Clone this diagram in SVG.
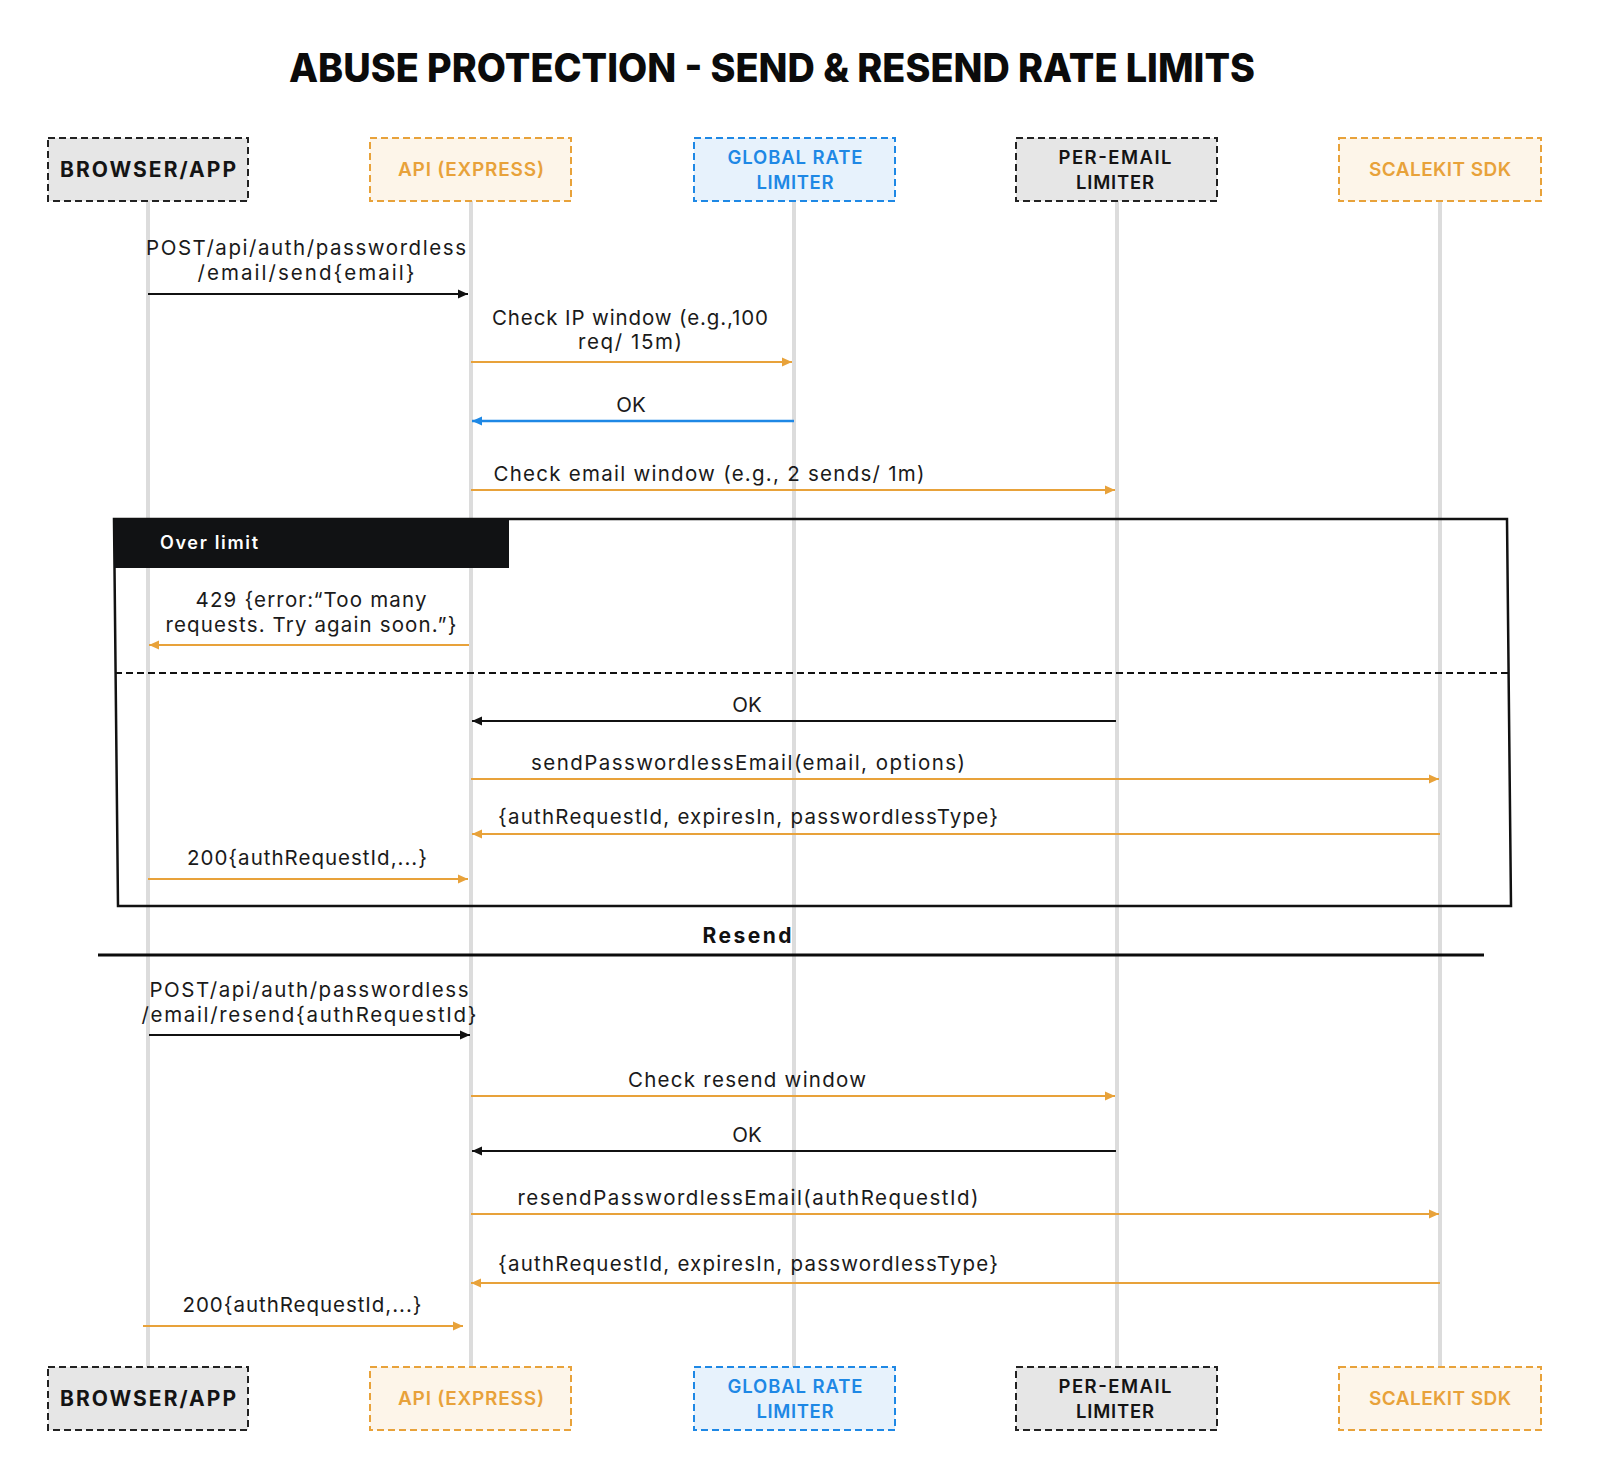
<svg xmlns="http://www.w3.org/2000/svg" width="1600" height="1479" viewBox="0 0 1600 1479">
<defs>
<style>
.bg{fill:#ffffff}
.title{font-family:Inter,"Liberation Sans",sans-serif;font-weight:800;font-size:40px;fill:#0b0b0b}
.lifeline{stroke:#dcdcdc;stroke-width:4}
.box{stroke-width:2;stroke-dasharray:7 4}
.b-gray{fill:#e6e6e6;stroke:#222}
.b-orange{fill:#fdf5e9;stroke:#e8a23a}
.b-blue{fill:#e7f2fc;stroke:#1e88e5}
.lbl{font-family:Inter,"Liberation Sans",sans-serif;font-weight:600;text-anchor:middle}
.lbl-black{fill:#141414;font-size:21px;font-weight:700}
.lbl-gray{fill:#141414;font-size:18.5px}
.lbl-orange{fill:#e8a23a;font-size:19px}
.lbl-blue{fill:#1e88e5;font-size:18.5px}
.msg{font-family:Inter,"Liberation Sans",sans-serif;font-size:20.5px;fill:#1a1a1a;text-anchor:middle}
.a-black{stroke:#111;stroke-width:2.2;fill:none}
.a-orange{stroke:#e8a23a;stroke-width:2;fill:none}
.a-blue{stroke:#1e88e5;stroke-width:2.4;fill:none}
.frame{fill:none;stroke:#111;stroke-width:2.5}
.sep{stroke:#111;stroke-width:1.8;stroke-dasharray:7 4}
.hdr{fill:#111214}
.hdrtxt{font-family:Inter,"Liberation Sans",sans-serif;font-weight:600;font-size:18px;fill:#ffffff}
.divline{stroke:#0b0b0b;stroke-width:3}
.divtxt{font-family:Inter,"Liberation Sans",sans-serif;font-weight:700;font-size:21px;fill:#111;text-anchor:middle}
</style>
<marker id="mh-black" viewBox="0 0 10 10" refX="10" refY="5" markerWidth="10" markerHeight="10" markerUnits="userSpaceOnUse" orient="auto"><path d="M0,0.5 L10,5 L0,9.5 z" fill="#111"/></marker>
<marker id="mh-orange" viewBox="0 0 10 10" refX="10" refY="5" markerWidth="10" markerHeight="10" markerUnits="userSpaceOnUse" orient="auto"><path d="M0,0.5 L10,5 L0,9.5 z" fill="#e8a23a"/></marker>
<marker id="mh-blue" viewBox="0 0 10 10" refX="10" refY="5" markerWidth="10" markerHeight="10" markerUnits="userSpaceOnUse" orient="auto"><path d="M0,0.5 L10,5 L0,9.5 z" fill="#1e88e5"/></marker>
</defs>
<rect class="bg" x="0" y="0" width="1600" height="1479"/>
<text class="title" x="772" y="82" text-anchor="middle" textLength="966" lengthAdjust="spacingAndGlyphs">ABUSE PROTECTION - SEND &amp; RESEND RATE LIMITS</text>

<g id="lifelines">
<line class="lifeline" x1="148" y1="201" x2="148" y2="1367"/>
<line class="lifeline" x1="471" y1="201" x2="471" y2="1367"/>
<line class="lifeline" x1="794" y1="201" x2="794" y2="1367"/>
<line class="lifeline" x1="1117" y1="201" x2="1117" y2="1367"/>
<line class="lifeline" x1="1440" y1="201" x2="1440" y2="1367"/>
</g>

<g id="fragment-over-limit">
<polygon class="frame" points="114,519 1507,519 1511,906 118,906"/>
<rect class="hdr" x="114" y="519" width="395" height="49"/>
<text class="hdrtxt" x="160" y="549" textLength="98" lengthAdjust="spacing">Over limit</text>
<line class="sep" x1="115" y1="673" x2="1508" y2="673"/>
</g>

<g id="divider-resend">
<line class="divline" x1="98" y1="955" x2="1484" y2="955"/>
<text class="divtxt" x="747" y="943" textLength="89" lengthAdjust="spacing">Resend</text>
</g>

<g id="node-browser-top">
<rect class="box b-gray" x="48" y="138" width="200" height="63"/>
<text class="lbl lbl-black" x="148" y="177" textLength="176" lengthAdjust="spacing">BROWSER/APP</text>
</g>
<g id="node-api-top">
<rect class="box b-orange" x="370" y="138" width="201" height="63"/>
<text class="lbl lbl-orange" x="471" y="176" textLength="146" lengthAdjust="spacing">API (EXPRESS)</text>
</g>
<g id="node-global-top">
<rect class="box b-blue" x="694" y="138" width="201" height="63"/>
<text class="lbl lbl-blue" x="795" y="164" textLength="135" lengthAdjust="spacing">GLOBAL RATE</text>
<text class="lbl lbl-blue" x="795" y="189" textLength="77" lengthAdjust="spacing">LIMITER</text>
</g>
<g id="node-peremail-top">
<rect class="box b-gray" x="1016" y="138" width="201" height="63"/>
<text class="lbl lbl-gray" x="1115" y="164" textLength="113" lengthAdjust="spacing">PER-EMAIL</text>
<text class="lbl lbl-gray" x="1115" y="189" textLength="78" lengthAdjust="spacing">LIMITER</text>
</g>
<g id="node-scalekit-top">
<rect class="box b-orange" x="1339" y="138" width="202" height="63"/>
<text class="lbl lbl-orange" x="1440" y="176" textLength="142" lengthAdjust="spacing">SCALEKIT SDK</text>
</g>

<g id="node-browser-bottom">
<rect class="box b-gray" x="48" y="1367" width="200" height="63"/>
<text class="lbl lbl-black" x="148" y="1406" textLength="176" lengthAdjust="spacing">BROWSER/APP</text>
</g>
<g id="node-api-bottom">
<rect class="box b-orange" x="370" y="1367" width="201" height="63"/>
<text class="lbl lbl-orange" x="471" y="1405" textLength="146" lengthAdjust="spacing">API (EXPRESS)</text>
</g>
<g id="node-global-bottom">
<rect class="box b-blue" x="694" y="1367" width="201" height="63"/>
<text class="lbl lbl-blue" x="795" y="1393" textLength="135" lengthAdjust="spacing">GLOBAL RATE</text>
<text class="lbl lbl-blue" x="795" y="1418" textLength="77" lengthAdjust="spacing">LIMITER</text>
</g>
<g id="node-peremail-bottom">
<rect class="box b-gray" x="1016" y="1367" width="201" height="63"/>
<text class="lbl lbl-gray" x="1115" y="1393" textLength="113" lengthAdjust="spacing">PER-EMAIL</text>
<text class="lbl lbl-gray" x="1115" y="1418" textLength="78" lengthAdjust="spacing">LIMITER</text>
</g>
<g id="node-scalekit-bottom">
<rect class="box b-orange" x="1339" y="1367" width="202" height="63"/>
<text class="lbl lbl-orange" x="1440" y="1405" textLength="142" lengthAdjust="spacing">SCALEKIT SDK</text>
</g>

<g id="connectors">
<line class="a-black" x1="148" y1="294" x2="468" y2="294" marker-end="url(#mh-black)"/>
<line class="a-orange" x1="471" y1="362" x2="792" y2="362" marker-end="url(#mh-orange)"/>
<line class="a-blue" x1="794" y1="421" x2="472" y2="421" marker-end="url(#mh-blue)"/>
<line class="a-orange" x1="471" y1="490" x2="1115" y2="490" marker-end="url(#mh-orange)"/>
<line class="a-orange" x1="469" y1="645" x2="149" y2="645" marker-end="url(#mh-orange)"/>
<line class="a-black" x1="1116" y1="721" x2="472" y2="721" marker-end="url(#mh-black)"/>
<line class="a-orange" x1="471" y1="779" x2="1439" y2="779" marker-end="url(#mh-orange)"/>
<line class="a-orange" x1="1440" y1="834" x2="472" y2="834" marker-end="url(#mh-orange)"/>
<line class="a-orange" x1="148" y1="879" x2="468" y2="879" marker-end="url(#mh-orange)"/>
<line class="a-black" x1="149" y1="1035" x2="470" y2="1035" marker-end="url(#mh-black)"/>
<line class="a-orange" x1="471" y1="1096" x2="1115" y2="1096" marker-end="url(#mh-orange)"/>
<line class="a-black" x1="1116" y1="1151" x2="472" y2="1151" marker-end="url(#mh-black)"/>
<line class="a-orange" x1="471" y1="1214" x2="1439" y2="1214" marker-end="url(#mh-orange)"/>
<line class="a-orange" x1="1440" y1="1283" x2="471" y2="1283" marker-end="url(#mh-orange)"/>
<line class="a-orange" x1="143" y1="1326" x2="463" y2="1326" marker-end="url(#mh-orange)"/>
</g>

<g id="labels">
<text class="msg" x="306" y="255" textLength="320" lengthAdjust="spacing">POST/api/auth/passwordless</text>
<text class="msg" x="306" y="280" textLength="217" lengthAdjust="spacing">/email/send{email}</text>
<text class="msg" x="630" y="325" textLength="276" lengthAdjust="spacing">Check IP window (e.g.,100</text>
<text class="msg" x="630" y="349" textLength="104" lengthAdjust="spacing">req/ 15m)</text>
<text class="msg" x="631" y="412">OK</text>
<text class="msg" x="709" y="481" textLength="431" lengthAdjust="spacing">Check email window (e.g., 2 sends/ 1m)</text>
<text class="msg" x="311" y="607" textLength="231" lengthAdjust="spacing">429 {error:“Too many</text>
<text class="msg" x="311" y="632" textLength="291" lengthAdjust="spacing">requests. Try again soon.”}</text>
<text class="msg" x="747" y="712">OK</text>
<text class="msg" x="748" y="770" textLength="434" lengthAdjust="spacing">sendPasswordlessEmail(email, options)</text>
<text class="msg" x="748" y="824" textLength="500" lengthAdjust="spacing">{authRequestId, expiresIn, passwordlessType}</text>
<text class="msg" x="307" y="865" textLength="240" lengthAdjust="spacing">200{authRequestId,...}</text>
<text class="msg" x="309" y="997" textLength="319" lengthAdjust="spacing">POST/api/auth/passwordless</text>
<text class="msg" x="309" y="1022" textLength="335" lengthAdjust="spacing">/email/resend{authRequestId}</text>
<text class="msg" x="747" y="1087" textLength="238" lengthAdjust="spacing">Check resend window</text>
<text class="msg" x="747" y="1142">OK</text>
<text class="msg" x="748" y="1205" textLength="461" lengthAdjust="spacing">resendPasswordlessEmail(authRequestId)</text>
<text class="msg" x="748" y="1271" textLength="500" lengthAdjust="spacing">{authRequestId, expiresIn, passwordlessType}</text>
<text class="msg" x="302" y="1312" textLength="239" lengthAdjust="spacing">200{authRequestId,...}</text>
</g>
</svg>
